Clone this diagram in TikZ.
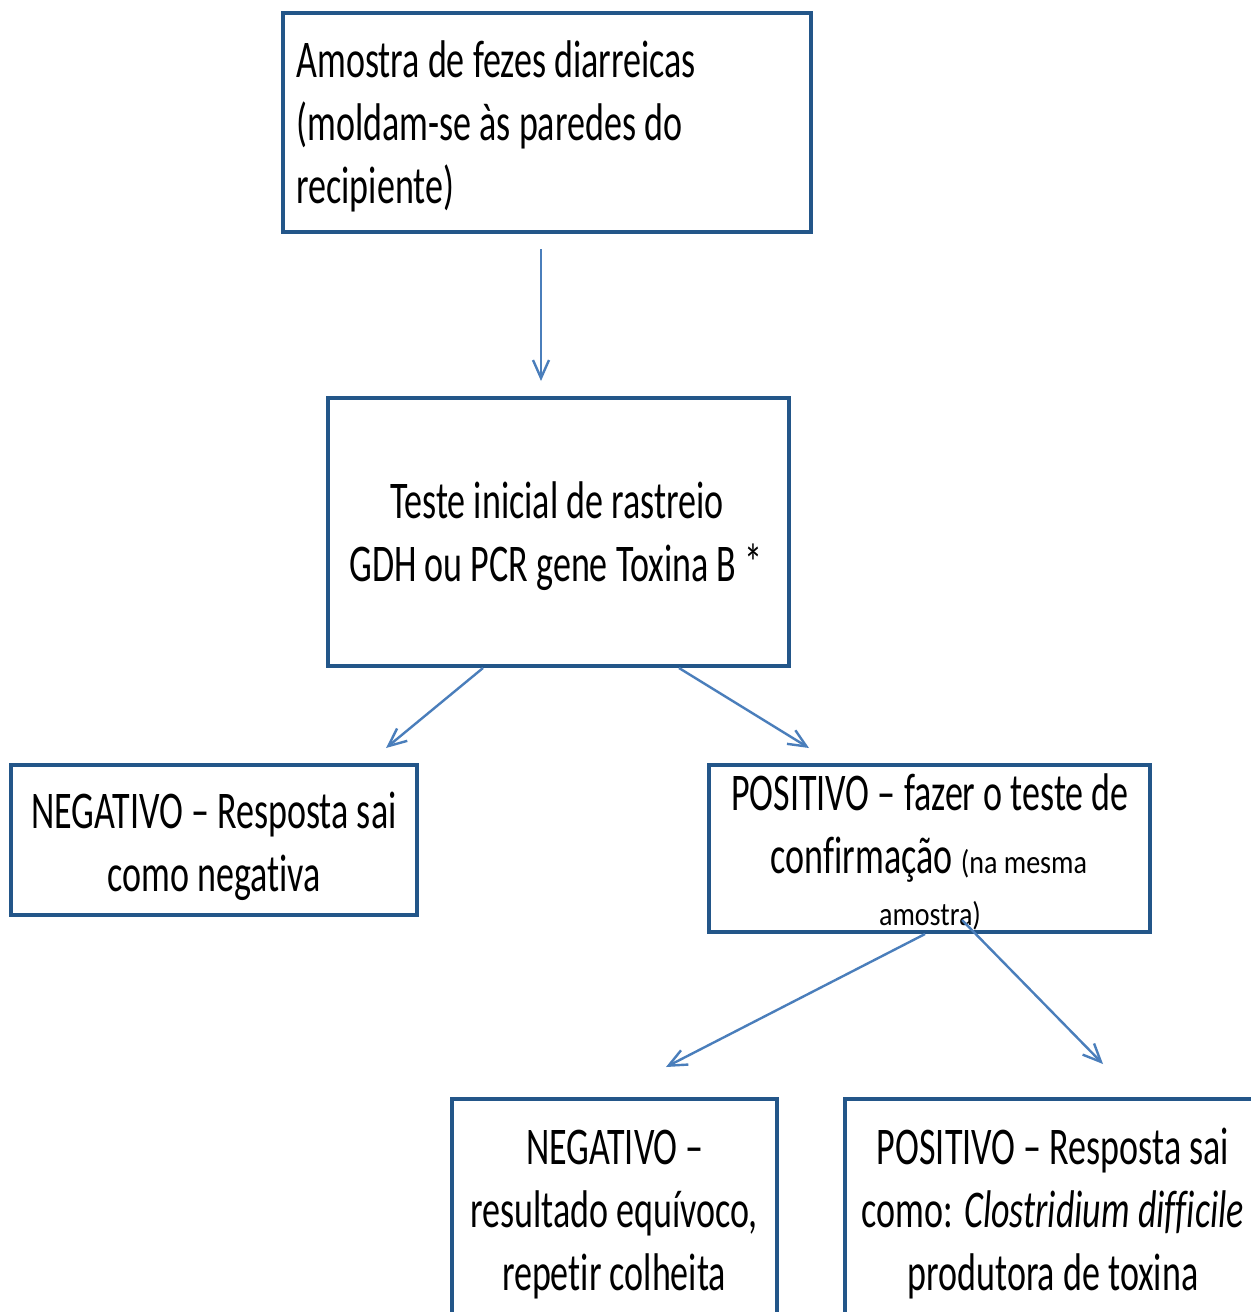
\documentclass[tikz,border=0pt]{standalone}
\usepackage{fontspec}
\setmainfont{Carlito}[FakeStretch=0.68,Ligatures=NoCommon]
\newfontfamily\smallfont{Carlito}[FakeStretch=0.85,Ligatures=NoCommon]
\usetikzlibrary{arrows.meta}
\definecolor{boxblue}{RGB}{35,86,137}
\definecolor{arrblue}{RGB}{74,126,187}
\begin{document}
\begin{tikzpicture}[x=0.5pt,y=-0.5pt,
  box/.style={draw=boxblue,line width=2pt,rectangle,inner sep=0pt,fill=none},
  txt/.style={inner sep=0pt,font=\fontsize{26.5pt}{31.5pt}\selectfont},
  arr/.style={draw=arrblue,line width=1.2pt,-{Straight Barb[length=9pt,width=8pt,line width=1.2pt]}}]
\useasboundingbox (0,0) rectangle (1251,1312);
\fill[white] (0,0) rectangle (1251,1312);
% boxes
\node[box,minimum width=264pt,minimum height=109.5pt] (box1) at (547,122.5) {};
\node[box,minimum width=230.5pt,minimum height=134pt] (box2) at (558.5,532) {};
\node[box,minimum width=203pt,minimum height=75pt] (box3) at (214,840) {};
\node[box,minimum width=220.5pt,minimum height=83.5pt] (box4) at (929.5,848.5) {};
\node[box,minimum width=162.5pt,minimum height=115.5pt] (box5) at (614.5,1214.5) {};
\node[box,minimum width=212.5pt,minimum height=115.5pt] (box6) at (1057.5,1214.5) {};
% texts
\node[txt,anchor=base west] (t1a) at (296,77) {Amostra de fezes diarreicas};
\node[txt,anchor=base west] (t1b) at (296,140) {(moldam-se às paredes do};
\node[txt,anchor=base west] (t1c) at (296,203) {recipiente)};
\node[txt,anchor=base] (t2a) at (557,518) {Teste inicial de rastreio};
\node[txt,anchor=base] (t2b) at (556,581) {GDH ou PCR gene Toxina B *};
\node[txt,anchor=base] (t3a) at (214,828) {NEGATIVO – Resposta sai};
\node[txt,anchor=base] (t3b) at (214,891) {como negativa};
\node[txt,anchor=base] (t4a) at (930,810) {POSITIVO – fazer o teste de};
\node[txt,anchor=base] (t4b) at (929,873) {confirmação {\smallfont\fontsize{16.5pt}{20pt}\selectfont (na mesma}};
\node[txt,anchor=base] (t4c) at (930,925) {\smallfont\fontsize{16.5pt}{20pt}\selectfont amostra)};
\node[txt,anchor=base] (t5a) at (615,1164) {NEGATIVO –};
\node[txt,anchor=base] (t5b) at (614,1227) {resultado equívoco,};
\node[txt,anchor=base] (t5c) at (614,1290) {repetir colheita};
\node[txt,anchor=base] (t6a) at (1053,1164) {POSITIVO – Resposta sai};
\node[txt,anchor=base] (t6b) at (1053,1227) {como: \textit{Clostridium difficile}};
\node[txt,anchor=base] (t6c) at (1053,1290) {produtora de toxina};
% arrow end points
\coordinate (a1s) at (541,249);
\coordinate (a1e) at (541,381);
\coordinate (a2s) at (483,668);
\coordinate (a2e) at (386,748);
\coordinate (a3s) at (679,668);
\coordinate (a3e) at (809,748);
\coordinate (a4s) at (925,934);
\coordinate (a4e) at (666,1067);
\coordinate (a5s) at (962,920);
\coordinate (a5e) at (1103,1064);
% arrows
\draw[arr] (a1s) -- (a1e);
\draw[arr] (a2s) -- (a2e);
\draw[arr] (a3s) -- (a3e);
\draw[arr] (a4s) -- (a4e);
\draw[arr] (a5s) -- (a5e);
\end{tikzpicture}
\end{document}
